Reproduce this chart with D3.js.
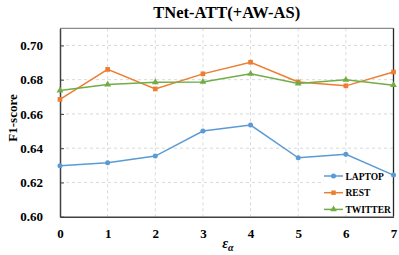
<!DOCTYPE html>
<html><head><meta charset="utf-8">
<script src="https://cdn.jsdelivr.net/npm/d3@7"></script>
<style>body{margin:0;background:#fff}svg{display:block}</style>
</head><body><svg id="c" width="399" height="255"></svg>
<script>
const epsilons = [0,1,2,3,4,5,6,7];
const laptop = [0.6297,0.6315,0.6354,0.6500,0.6535,0.6344,0.6364,0.6243];
const rest = [0.6685,0.6860,0.6746,0.6834,0.6902,0.6787,0.6764,0.6845];
const twitter = [0.6737,0.6772,0.6785,0.6787,0.6834,0.6778,0.6799,0.6768];
const yTicks = [0.60,0.62,0.64,0.66,0.68,0.70];
const seriesNames = ["LAPTOP","REST","TWITTER"];
const colors = ["#5B9BD5","#ED7D31","#70AD47"];
const shapes = [d3.symbolCircle, d3.symbolSquare, d3.symbolTriangle];
const series = [laptop, rest, twitter];
const FF = "'Liberation Serif', 'Times New Roman', 'DejaVu Serif', serif";

const svg = d3.select("#c");
const L=60, R=393.5, T=28.3, B=216.7;
const x = d3.scaleLinear().domain([0,7]).range([L,R]);
const y = d3.scaleLinear().domain([0.60,0.71]).range([B,T]);

// grid
const g = svg.append("g");
g.selectAll(".hg").data(yTicks.slice(1)).join("line")
 .attr("x1",L).attr("x2",R).attr("y1",d=>y(d)).attr("y2",d=>y(d))
 .attr("stroke","#d9d9d9").attr("stroke-width",1).attr("stroke-dasharray","3,3");
g.selectAll(".vg").data(epsilons.slice(1,7)).join("line")
 .attr("x1",d=>x(d)).attr("x2",d=>x(d)).attr("y1",T).attr("y2",B)
 .attr("stroke","#d9d9d9").attr("stroke-width",1).attr("stroke-dasharray","3,3");

// legend background (over grid, under lines)
svg.append("rect").attr("x",322).attr("y",163).attr("width",70).attr("height",52).attr("fill","#fff");

// box
svg.append("line").attr("x1",L).attr("x2",R).attr("y1",T).attr("y2",T).attr("stroke","#8c8c8c").attr("stroke-width",1.2);
svg.append("line").attr("x1",R).attr("x2",R).attr("y1",T).attr("y2",B).attr("stroke","#262626").attr("stroke-width",1.3);

// axes
const ya = d3.axisLeft(y).tickValues(yTicks).tickFormat(d3.format(".2f")).tickSizeInner(-4).tickSizeOuter(0).tickPadding(17);
const yg = svg.append("g").attr("transform",`translate(${L},0)`).call(ya);
yg.select(".domain").attr("stroke","#404040").attr("stroke-width",1.5);
yg.selectAll(".tick line").attr("stroke","#404040");

const xa = d3.axisBottom(x).tickValues(epsilons).tickFormat(d3.format("d")).tickSize(0).tickPadding(12);
const xg = svg.append("g").attr("transform",`translate(0,${B})`).call(xa);
xg.select(".domain").attr("stroke","#404040").attr("stroke-width",1.5);
[yg,xg].forEach(a=>{
  a.attr("font-family",FF).attr("font-size",13).attr("font-weight","bold");
  a.selectAll("text").attr("fill","#000").style("font-family",FF).style("font-size","13px").style("font-weight","bold");
});

// lines
const line = d3.line().x((d,i)=>x(epsilons[i])).y(d=>y(d));
series.forEach((s,k)=>{
  svg.append("path").datum(s).attr("d",line).attr("fill","none").attr("stroke",colors[k]).attr("stroke-width",1.5);
  svg.selectAll(".m"+k).data(s).join("path")
   .attr("transform",(d,i)=>`translate(${x(epsilons[i])},${y(d)})`)
   .attr("d",d3.symbol().type(shapes[k]).size(k===0?20:k===1?22:20))
   .attr("fill",colors[k]);
});

function txt(sel){ return sel.style("font-family",FF).style("font-weight","bold").attr("fill","#000"); }

// legend
const lg = svg.append("g");
seriesNames.forEach((n,k)=>{
  const yy = 176 + k*16.7;
  lg.append("line").attr("x1",324).attr("x2",343).attr("y1",yy).attr("y2",yy).attr("stroke",colors[k]).attr("stroke-width",1.5);
  lg.append("path").attr("transform",`translate(333.5,${yy})`).attr("d",d3.symbol().type(shapes[k]).size(20)).attr("fill",colors[k]);
  txt(lg.append("text").attr("x",345.5).attr("y",yy+3.5).style("font-size","9.5px").text(n));
});

// title
txt(svg.append("text").attr("x",(L+R)/2).attr("y",18).attr("text-anchor","middle").style("font-size","16.5px").text("TNet-ATT(+AW-AS)"));
// y label
txt(svg.append("text").attr("transform","translate(17,118) rotate(-90)").attr("text-anchor","middle").style("font-size","13px").text("F1-score"));
// x label
const xl = txt(svg.append("text").attr("x",228).attr("y",248).attr("text-anchor","middle").style("font-size","14px").style("font-style","italic"));
xl.append("tspan").text("ε");
xl.append("tspan").attr("dy",3).style("font-size","10px").text("α");
</script></body></html>
